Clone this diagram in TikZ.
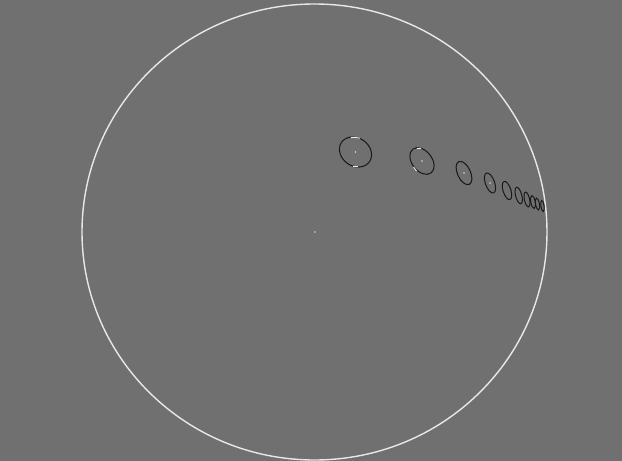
\documentclass[tikz,border=0pt]{standalone}
\definecolor{bgray}{RGB}{112,112,112}
\definecolor{rim}{RGB}{232,232,232}
\tikzset{
  blob/.style={draw=black!90, line width=1.0pt},
  shine/.style={draw=white!85!gray, line width=0.9pt},
  cdot/.style={fill=white!70!gray}
}
\begin{document}
\begin{tikzpicture}[x=1pt,y=-1pt]
\fill[bgray] (0,0) rectangle (622,461);
\useasboundingbox (0,0) rectangle (622,461);
% main disc outline
\draw[rim, line width=1.4pt] (314.5,232) ellipse [x radius=232.5, y radius=228];
\fill[cdot] (315,232) circle (0.9);
% chain of ellipses
\foreach \cx/\cy/\a/\b/\r in {
  355.5/152/17/14/-35,
  422/161/15/10/-52,
  464/173/12.5/6.5/-65,
  490/183/10.5/4.6/-70,
  507/190.5/9.5/3.9/-72,
  518.7/195.5/8.5/3.1/-75,
  527/199.5/7.5/2.6/-78,
  533/202/6.5/2.2/-80,
  537.5/204/6/1.9/-80,
  542.5/206/5.5/1.6/-82}{
  \draw[blob] (\cx,\cy) ellipse [x radius=\a, y radius=\b, rotate=\r];
}
\foreach \cx/\cy in {355.5/152, 422/161, 464/173, 490/183}{
  \fill[cdot] (\cx,\cy) circle (0.8);
}
% white highlights on the larger rings
\draw[shine] (351,137.6) .. controls (354,137.1) and (357,137.3) .. (360,138.3);
\draw[shine] (353,166.2) -- (358,166.2);
\draw[shine] (417,148.6) -- (421,148.4);
\draw[shine] (413.5,167) -- (416.5,171);
\end{tikzpicture}
\end{document}
